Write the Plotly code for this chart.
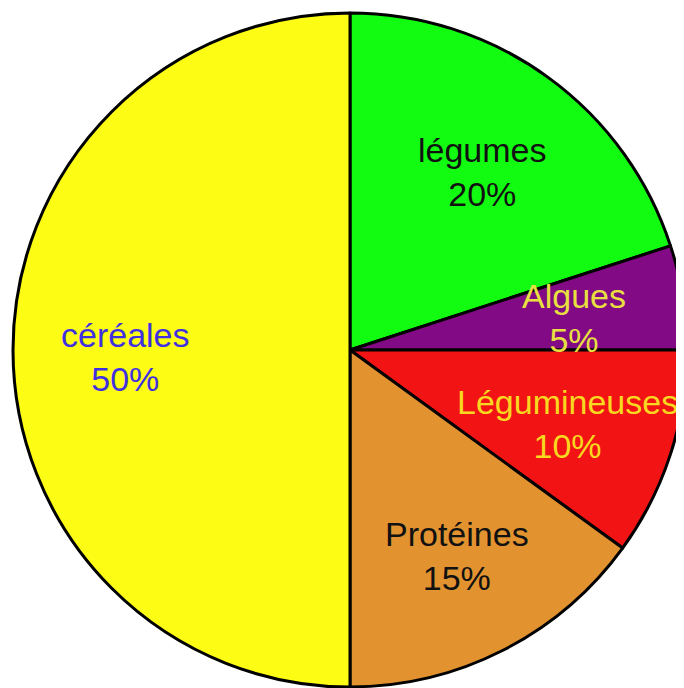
import plotly.graph_objects as go

labels = ["légumes", "Algues", "Légumineuses", "Protéines", "céréales"]
values = [20, 5, 10, 15, 50]
colors = ["#12fc12", "#820a84", "#f21414", "#e29330", "#fcfc14"]
text_colors = ["#111111", "#e8e040", "#f8d820", "#111111", "#4030e0"]
# label centers (pixel coords of the text block in the page)
label_pos = [(482, 172), (574, 318), (567, 424), (457, 556), (125, 357)]

W, H = 684, 688
OFF = 8  # page body margin
CX, CY, R = 350 - OFF, 350 - OFF, 337

fig = go.Figure(go.Pie(
    labels=labels, values=values, sort=False, direction="clockwise", rotation=0,
    marker=dict(colors=colors, line=dict(color="black", width=3)),
    textinfo="none", hoverinfo="label+percent", showlegend=False,
    domain=dict(x=[(CX - R) / W, (CX + R) / W], y=[1 - (CY + R) / H, 1 - (CY - R) / H]),
))

for lab, v, c, (px, py) in zip(labels, values, text_colors, label_pos):
    fig.add_annotation(
        x=(px - OFF) / W, y=1 - (py - OFF) / H, xref="paper", yref="paper",
        text=f"{lab}<br>{v}%", showarrow=False,
        font=dict(family="Liberation Sans, Arial", size=34, color=c),
        xanchor="center", yanchor="middle", align="center",
    )

fig.update_layout(width=W, height=H, margin=dict(l=0, r=0, t=0, b=0),
                  paper_bgcolor="white", plot_bgcolor="white")
fig.write_html("out.html")
